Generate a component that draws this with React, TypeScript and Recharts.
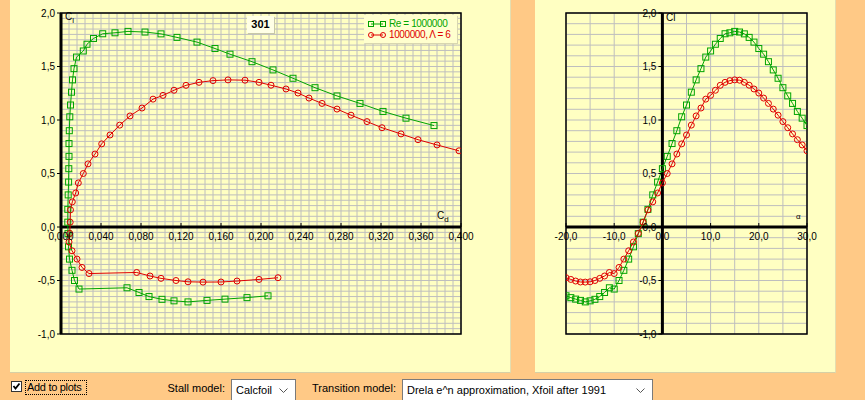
import React from 'react'
import {
  LineChart, Line, XAxis, YAxis, CartesianGrid, ReferenceLine, ReferenceArea
} from 'recharts'

// angle of attack, degrees
const alphaDeg = [
  -20, -19, -18, -17, -16, -15, -14, -13, -12, -11, -10, -9, -8, -7, -6, -5, -4, -3, -2, -1,
  0, 1, 2, 3, 4, 5, 6, 7, 8, 9, 10, 11, 12, 13, 14, 15, 16, 17, 18, 19, 20,
  21, 22, 23, 24, 25, 26, 27, 28, 29, 30,
]

// Re = 1000000
const greenCl = [
  -0.643, -0.66, -0.674, -0.686, -0.7, -0.69, -0.676, -0.65, -0.612, -0.568, -0.58, -0.5, -0.405, -0.3, -0.185, -0.062, 0.045, 0.165, 0.3, 0.42,
  0.545, 0.66, 0.78, 0.9, 1.03, 1.14, 1.26, 1.375, 1.48, 1.588, 1.645, 1.708, 1.762, 1.806, 1.815, 1.828, 1.822, 1.805, 1.772, 1.728, 1.668,
  1.615, 1.545, 1.468, 1.39, 1.302, 1.225, 1.155, 1.08, 1.017, 0.948,
]
const greenCd = [
  0.207, 0.186, 0.164, 0.146, 0.127, 0.113, 0.101, 0.088, 0.078, 0.066, 0.018, 0.0135, 0.011, 0.0085, 0.0075, 0.007, 0.0068, 0.0068, 0.0072, 0.0076,
  0.0078, 0.008, 0.008, 0.0083, 0.0088, 0.0095, 0.0105, 0.0115, 0.013, 0.0155, 0.0223, 0.026, 0.0325, 0.0417, 0.054, 0.067, 0.084, 0.1, 0.116, 0.136, 0.154,
  0.169, 0.191, 0.212, 0.232, 0.254, 0.276, 0.299, 0.322, 0.345, 0.373,
]

// 1000000, aspect ratio 6
const redCl = [
  -0.474, -0.49, -0.505, -0.514, -0.515, -0.512, -0.5, -0.48, -0.458, -0.425, -0.435, -0.378, -0.3, -0.222, -0.14, -0.06, 0.045, 0.16, 0.235, 0.318,
  0.412, 0.5, 0.59, 0.682, 0.777, 0.86, 0.952, 1.038, 1.112, 1.195, 1.23, 1.278, 1.324, 1.352, 1.368, 1.375, 1.372, 1.352, 1.325, 1.29, 1.252,
  1.205, 1.155, 1.102, 1.045, 0.985, 0.928, 0.87, 0.816, 0.767, 0.712,
]
const redCd = [
  0.217, 0.198, 0.176, 0.16, 0.142, 0.127, 0.115, 0.1, 0.089, 0.0757, 0.028, 0.021, 0.016, 0.011, 0.008, 0.0088, 0.0092, 0.0095, 0.0113, 0.0147,
  0.0173, 0.0223, 0.027, 0.034, 0.0407, 0.049, 0.0587, 0.069, 0.081, 0.092, 0.102, 0.113, 0.125, 0.138, 0.152, 0.167, 0.184, 0.198, 0.21, 0.225, 0.237,
  0.248, 0.261, 0.276, 0.29, 0.306, 0.321, 0.34, 0.357, 0.376, 0.398,
]

const cdTicks = [0, 0.04, 0.08, 0.12, 0.16, 0.2, 0.24, 0.28, 0.32, 0.36, 0.4]
const clTicks = [-1, -0.5, 0, 0.5, 1, 1.5, 2]
const alphaTicks = [-20, -10, 0, 10, 20, 30]
const seriesNames = ['Re = 1000000', '1000000, \u039B = 6']
const airfoil = '301'

const GREEN = '#00A400'
const RED = '#E00000'
const ORANGE = '#FFC986'
const PANEL = '#FFFFC2'
const GRID = '#BEBEBE'
const FONT = '"Liberation Sans", Arial, sans-serif'

const greenPts = alphaDeg.map((a, i) => ({ alpha: a, cd: greenCd[i], cl: greenCl[i] }))
const redPts = alphaDeg.map((a, i) => ({ alpha: a, cd: redCd[i], cl: redCl[i] }))

const steps = (from: number, to: number, step: number) =>
  Array.from({ length: Math.round((to - from) / step) + 1 }, (_, i) => +(from + i * step).toFixed(4))

const comma = (v: number, d: number) => v.toFixed(d).replace('.', ',')

// chart boxes (axis strip included in left / bottom)
const LB = { w: 500, h: 372, top: 13, bottom: 38, left: 51, right: 49 }
const RB = { w: 300, h: 372, top: 13, bottom: 38, left: 31, right: 28 }
const zeroY = (b: typeof LB) => b.top + (b.h - b.top - b.bottom) * 2 / 3
const rightZeroX = RB.left + (RB.w - RB.left - RB.right) * 20 / 50

function SquareDot(p: any) {
  if (p.cx == null || p.cy == null) return <g key={p.index} />
  return <rect key={p.index} x={p.cx - 3} y={p.cy - 3} width={6} height={6} fill="none" stroke={GREEN} />
}
function CircleDot(p: any) {
  if (p.cx == null || p.cy == null) return <g key={p.index} />
  return <circle key={p.index} cx={p.cx} cy={p.cy} r={3} fill="none" stroke={RED} />
}

const tickText = { fontSize: 10, fill: '#000', fontFamily: FONT }

function XTick(y0: number, digits: number) {
  return (p: any) => (
    <g>
      <line x1={p.x} x2={p.x} y1={y0 - 4} y2={y0} stroke="#000" />
      <text x={p.x} y={y0 + 9} textAnchor="middle" dominantBaseline="central" {...tickText}>
        {comma(p.payload.value, digits)}
      </text>
    </g>
  )
}
function YTick(x0: number) {
  return (p: any) => (
    <g>
      <line x1={x0 - 4} x2={x0} y1={p.y} y2={p.y} stroke="#000" />
      <text x={x0 - 6} y={p.y} textAnchor="end" dominantBaseline="central" {...tickText}>
        {comma(p.payload.value, 1)}
      </text>
    </g>
  )
}

function LegendIcon({ color, square }: { color: string; square: boolean }) {
  return (
    <svg width={18} height={8} style={{ display: 'block' }}>
      <line x1={3} x2={15} y1={4} y2={4} stroke={color} />
      {square ? (
        <>
          <rect x={0.5} y={1.5} width={5} height={5} fill="none" stroke={color} />
          <rect x={12.5} y={1.5} width={5} height={5} fill="none" stroke={color} />
        </>
      ) : (
        <>
          <circle cx={3} cy={4} r={2.5} fill="none" stroke={color} />
          <circle cx={15} cy={4} r={2.5} fill="none" stroke={color} />
        </>
      )}
    </svg>
  )
}

function Combo({ left, width, text }: { left: number; width: number; text: string }) {
  return (
    <div style={{
      position: 'absolute', left, top: 379, width, height: 22, background: '#fff', whiteSpace: 'nowrap',
      border: '1px solid #7A7A7A', boxSizing: 'border-box', fontSize: 11, lineHeight: '20px', paddingLeft: 4,
    }}>
      {text}
      <svg width={9} height={6} style={{ position: 'absolute', right: 7, top: 8 }}>
        <polyline points="0.5,0.5 4.5,4.5 8.5,0.5" fill="none" stroke="#555" />
      </svg>
    </div>
  )
}

const abs = (s: React.CSSProperties): React.CSSProperties => ({ position: 'absolute', ...s })

export default function App() {
  const ly0 = zeroY(LB)
  const ry0 = zeroY(RB)
  return (
    <div style={abs({ left: 0, top: 0, width: 865, height: 400, background: ORANGE, overflow: 'hidden', fontFamily: FONT, color: '#000' })}>
      <div style={abs({ left: 10, top: 0, width: 500, height: 372, background: PANEL, borderBottom: '1px solid #D6D0A6', borderRight: '1px solid #E4DEB0' })} />
      <div style={abs({ left: 535, top: 0, width: 300, height: 372, background: PANEL, borderBottom: '1px solid #D6D0A6', borderRight: '1px solid #E4DEB0' })} />

      {/* polar Cl(Cd) */}
      <div style={abs({ left: 10, top: 0 })}>
        <LineChart width={LB.w} height={LB.h} margin={{ top: LB.top, right: LB.right, bottom: LB.bottom - 1, left: 0 }}>
          <CartesianGrid stroke={GRID} verticalValues={steps(0, 0.4, 0.008)} horizontalValues={steps(-1, 2, 0.05)} />
          <XAxis dataKey="cd" type="number" domain={[0, 0.4]} ticks={cdTicks} interval={0} height={1}
            axisLine={false} tickLine={false} tick={XTick(ly0, 3)} allowDataOverflow />
          <YAxis type="number" domain={[-1, 2]} ticks={clTicks} interval={0} width={LB.left}
            axisLine={false} tickLine={false} tick={YTick(LB.left)} allowDataOverflow />
          <ReferenceArea x1={0} x2={0.4} y1={-1} y2={2} fill="none" stroke="#000" strokeWidth={1.5} />
          <ReferenceLine y={0} stroke="#000" strokeWidth={3} />
          <ReferenceLine x={0} stroke="#000" strokeWidth={3} />
          <Line data={greenPts} dataKey="cl" type="linear" stroke={GREEN} strokeWidth={1} dot={SquareDot} isAnimationActive={false} />
          <Line data={redPts} dataKey="cl" type="linear" stroke={RED} strokeWidth={1} dot={CircleDot} isAnimationActive={false} />
        </LineChart>
      </div>

      {/* Cl(alpha) */}
      <div style={abs({ left: 535, top: 0 })}>
        <LineChart width={RB.w} height={RB.h} margin={{ top: RB.top, right: RB.right, bottom: RB.bottom - 1, left: RB.left - 1 }}>
          <CartesianGrid stroke={GRID} verticalValues={steps(-20, 30, 5)} horizontalValues={steps(-1, 2, 0.1)} />
          <XAxis dataKey="alpha" type="number" domain={[-20, 30]} ticks={alphaTicks} interval={0} height={1}
            axisLine={false} tickLine={false} tick={XTick(ry0, 1)} allowDataOverflow />
          <YAxis type="number" domain={[-1, 2]} ticks={clTicks} interval={0} width={1}
            axisLine={false} tickLine={false} tick={YTick(rightZeroX)} allowDataOverflow />
          <ReferenceArea x1={-20} x2={30} y1={-1} y2={2} fill="none" stroke="#000" strokeWidth={1.5} />
          <ReferenceLine y={0} stroke="#000" strokeWidth={3} />
          <ReferenceLine x={0} stroke="#000" strokeWidth={3} />
          <Line data={greenPts} dataKey="cl" type="linear" stroke={GREEN} strokeWidth={1} dot={SquareDot} isAnimationActive={false} />
          <Line data={redPts} dataKey="cl" type="linear" stroke={RED} strokeWidth={1} dot={CircleDot} isAnimationActive={false} />
        </LineChart>
      </div>

      {/* axis names */}
      <div style={abs({ left: 65, top: 11, fontSize: 10 })}>C<sub style={{ fontSize: 8, verticalAlign: -3 }}>l</sub></div>
      <div style={abs({ left: 437, top: 210, fontSize: 10 })}>C<sub style={{ fontSize: 8, verticalAlign: -3 }}>d</sub></div>
      <div style={abs({ left: 666, top: 12, fontSize: 10 })}>Cl</div>
      <div style={abs({ left: 796, top: 212, fontSize: 8 })}>{'\u03B1'}</div>

      {/* airfoil tag */}
      <div style={abs({
        left: 247, top: 16, width: 27, height: 17, background: '#FFFFE6', boxShadow: '1px 1px 0 #C8C8A8',
        fontSize: 11, fontWeight: 'bold', textAlign: 'center', lineHeight: '17px',
      })}>{airfoil}</div>

      {/* legend */}
      <div style={abs({ left: 364, top: 15, width: 93, height: 28, background: '#FFFFCE', boxShadow: '1px 1px 0 #D8D6B0', fontSize: 10, letterSpacing: -0.4 })}>
        <div style={abs({ left: 4, top: 4, display: 'flex', alignItems: 'center', gap: 3, color: GREEN, whiteSpace: 'nowrap', lineHeight: '10px' })}>
          <LegendIcon color={GREEN} square />{seriesNames[0]}
        </div>
        <div style={abs({ left: 4, top: 15, display: 'flex', alignItems: 'center', gap: 3, color: RED, whiteSpace: 'nowrap', lineHeight: '10px' })}>
          <LegendIcon color={RED} square={false} />{seriesNames[1]}
        </div>
      </div>

      {/* controls */}
      <div style={abs({ left: 11, top: 381, width: 11, height: 11, background: '#fff', border: '1px solid #333', boxSizing: 'border-box' })}>
        <svg width={9} height={9} style={{ display: 'block' }}>
          <polyline points="1.5,4 3.5,6.5 7.5,1.5" fill="none" stroke="#000" strokeWidth={1.8} />
        </svg>
      </div>
      <div style={abs({
        left: 25, top: 380, width: 62, height: 15, border: '1px dotted #000', boxSizing: 'border-box',
        fontSize: 11, lineHeight: '13px', paddingLeft: 1, whiteSpace: 'nowrap', letterSpacing: -0.3,
      })}>
        Add to plots
      </div>
      <div style={abs({ left: 150, width: 75, top: 382, fontSize: 11, textAlign: 'right', whiteSpace: 'nowrap' })}>Stall model:</div>
      <Combo left={231} width={65} text="Calcfoil" />
      <div style={abs({ left: 296, width: 100, top: 382, fontSize: 11, textAlign: 'right', whiteSpace: 'nowrap' })}>Transition model:</div>
      <Combo left={402} width={251} text="Drela e^n approximation, Xfoil after 1991" />
    </div>
  )
}
